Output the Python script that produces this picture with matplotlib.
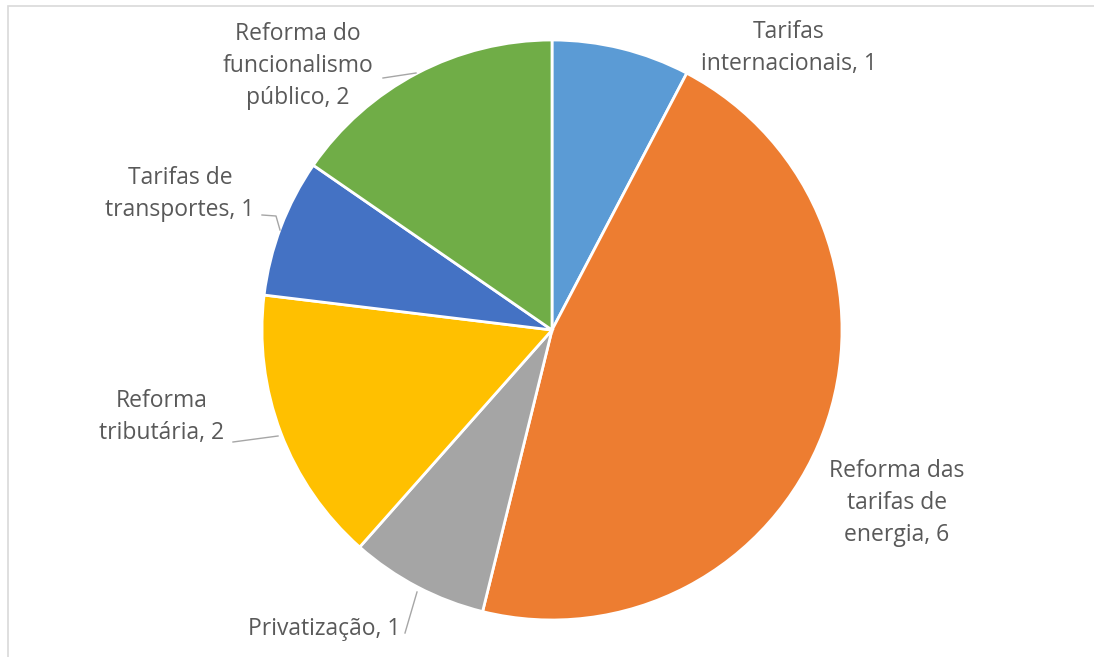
import matplotlib.pyplot as plt
from matplotlib.patches import Rectangle

plt.rcParams['font.family'] = ['Open Sans', 'DejaVu Sans']

# dados do gráfico
labels = ['Tarifas\ninternacionais, 1', 'Reforma das\ntarifas de\nenergia, 6',
          'Privatização, 1', 'Reforma\ntributária, 2', 'Tarifas de\ntransportes, 1',
          'Reforma do\nfuncionalismo\npúblico, 2']
values = [1, 6, 1, 2, 1, 2]
colors = ['#5B9BD5', '#ED7D31', '#A5A5A5', '#FFC000', '#4472C4', '#70AD47']

W, H = 1094, 657
fig = plt.figure(figsize=(W / 100, H / 100), dpi=100)
ax = fig.add_axes([0, 0, 1, 1])

# coordenadas em pixels (y de cima para baixo convertido)
def py(y):
    return H - y

ax.pie(values, colors=colors, startangle=90, counterclock=False,
       center=(552, py(330)), radius=290,
       wedgeprops=dict(edgecolor='white', linewidth=2))
ax.set_xlim(0, W)
ax.set_ylim(0, H)
ax.set_aspect('auto')
ax.axis('off')

# moldura
ax.add_patch(Rectangle((8, -5), W, py(6) + 5, fill=False, edgecolor='#D9D9D9', linewidth=1.2))

# rótulos e linhas de chamada
label_pos = [(789, 48), (897, 503), (324, 629), (162, 417), (180, 194), (298, 66)]
for lab, (x, y) in zip(labels, label_pos):
    ax.text(x, py(y), lab, ha='center', va='center', fontsize=16.5, color='#595959',
            linespacing=1.45)

leaders = [
    [(383, 78), (416, 73)],
    [(262, 215), (276, 216), (280, 230)],
    [(233, 442), (278, 436)],
    [(405, 633), (417, 592)],
]
for pts in leaders:
    xs = [p[0] for p in pts]
    ys = [py(p[1]) for p in pts]
    ax.plot(xs, ys, color='#A6A6A6', linewidth=1)

fig.savefig('out.png', dpi=100, facecolor='white')
